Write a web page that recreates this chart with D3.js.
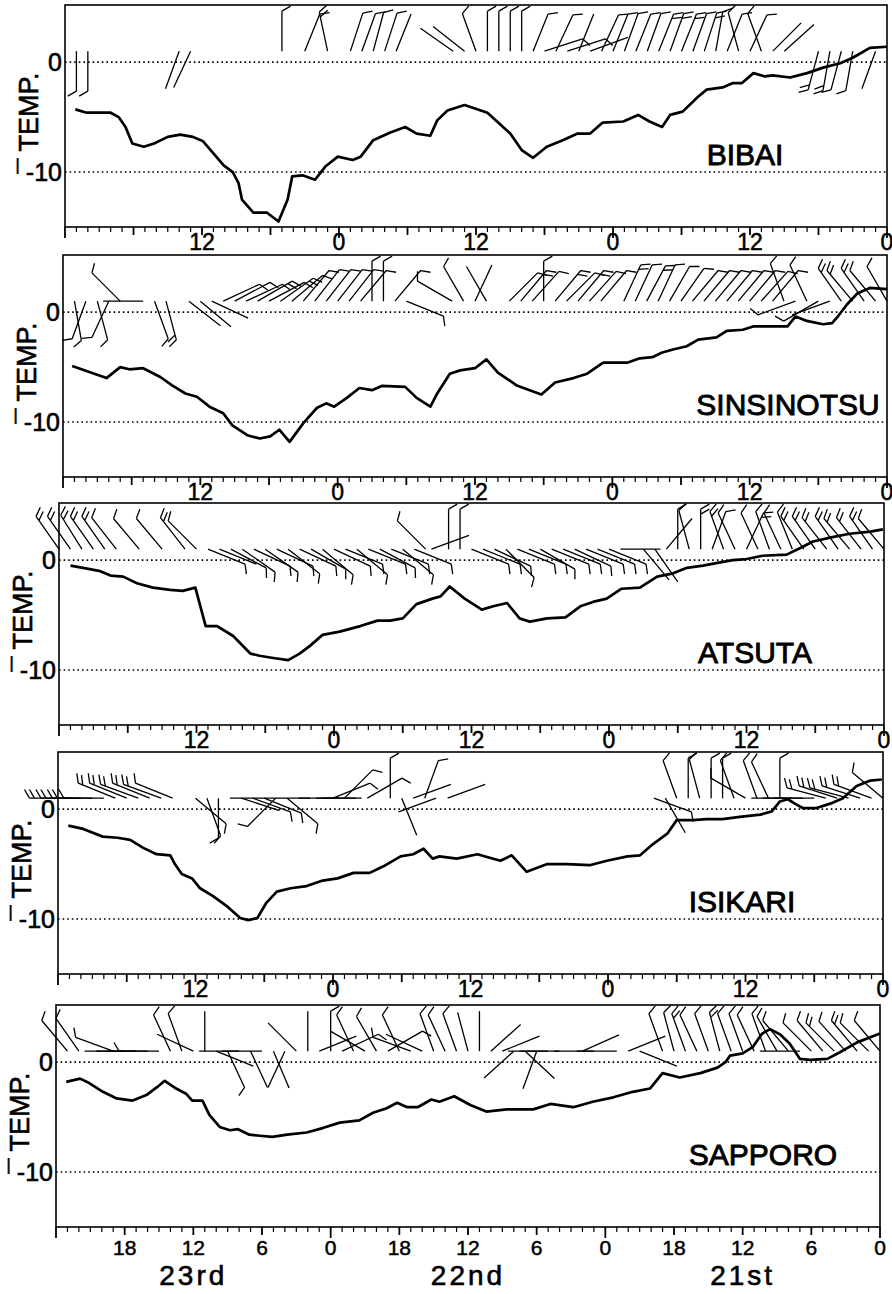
<!DOCTYPE html>
<html>
<head>
<meta charset="utf-8">
<script src="https://cdn.jsdelivr.net/npm/d3@7"></script>
<style>
  body { margin: 0; background: #fff; }
  text { font-family: "Liberation Sans", Arial, Helvetica, sans-serif; fill: #000; }
</style>
</head>
<body>
<script>
// time = hours counted back from 00h of the 21st (right edge) to 00h of the 24th (left edge)
var stations = ["BIBAI", "SINSINOTSU", "ATSUTA", "ISIKARI", "SAPPORO"];

// temperature, [hour, degC]
var bibaiTemp = [[71.1,-4.3],[70.1,-4.6],[68.0,-4.6],[67.3,-5.0],[66.7,-5.9],[66.1,-7.4],[65.1,-7.7],[64.2,-7.4],
  [63.0,-6.8],[61.9,-6.6],[60.8,-6.8],[59.9,-7.2],[59.0,-8.3],[58.1,-9.4],[57.3,-10.0],[56.8,-11.0],[56.5,-12.5],
  [55.5,-13.7],[54.3,-13.7],[53.3,-14.5],[52.5,-12.5],[52.1,-10.4],[51.2,-10.3],[50.1,-10.7],[49.2,-9.5],[48.1,-8.6],
  [46.8,-8.9],[46.1,-8.6],[45.0,-7.1],[43.5,-6.4],[42.2,-5.9],[41.2,-6.5],[40.0,-6.7],[39.4,-5.3],[38.5,-4.4],
  [37.0,-3.9],[35.0,-4.6],[33.0,-6.5],[32.0,-8.0],[31.0,-8.7],[29.8,-7.7],[28.4,-7.1],[27.1,-6.5],[26.0,-6.5],
  [24.9,-5.5],[23.1,-5.4],[21.8,-4.8],[20.8,-5.4],[19.7,-5.9],[19.0,-4.8],[17.9,-4.5],[16.6,-3.2],[15.8,-2.5],
  [14.4,-2.3],[13.5,-1.9],[12.7,-1.9],[11.7,-1.0],[10.7,-1.3],[10.0,-1.2],[8.5,-1.4],[7.0,-1.0],[5.6,-0.5],
  [4.1,-0.1],[3.0,0.4],[1.5,1.3],[0,1.4]];
var sinsinotsuTemp = [[71.2,-4.9],[68.2,-6.0],[67.0,-5.0],[66.2,-5.2],[65.0,-5.1],[63.5,-5.9],[62.4,-6.7],[61.3,-7.4],
  [60.3,-7.7],[59.2,-8.6],[58.0,-9.2],[57.2,-10.3],[55.9,-11.2],[54.8,-11.5],[53.9,-11.3],[53.1,-10.7],[52.2,-11.8],
  [51.0,-10.1],[49.8,-8.7],[49.0,-8.3],[48.3,-8.6],[47.2,-7.8],[46.1,-6.9],[45.0,-7.1],[44.1,-6.7],[42.1,-6.8],
  [41.1,-7.8],[39.9,-8.6],[39.3,-7.4],[38.2,-5.6],[37.3,-5.3],[36.0,-5.1],[35.0,-4.3],[34.0,-5.5],[32.3,-6.7],
  [30.2,-7.5],[29.0,-6.4],[27.4,-6.0],[26.2,-5.6],[24.8,-4.6],[22.7,-4.6],[21.6,-4.2],[20.5,-4.1],[19.7,-3.7],
  [18.7,-3.4],[17.5,-3.1],[16.5,-2.5],[14.9,-2.3],[14.0,-1.7],[12.6,-1.6],[11.7,-1.3],[10.0,-1.3],[8.7,-1.3],
  [8.0,-0.4],[7.0,-0.8],[5.6,-1.1],[4.8,-1.0],[4.3,-0.4],[3.5,0.7],[2.6,1.7],[1.5,2.2],[0,2.1]];
var atsutaTemp = [[71.0,-0.5],[69.9,-0.7],[68.4,-1.0],[67.5,-1.4],[66.4,-1.5],[65.2,-2.1],[63.8,-2.5],[62.3,-2.7],
  [61.2,-2.8],[60.1,-2.5],[59.2,-6.0],[58.2,-6.0],[56.8,-6.9],[55.3,-8.5],[54.5,-8.7],[53.3,-8.9],[52.0,-9.1],
  [51.0,-8.5],[50.1,-7.8],[49.0,-6.8],[47.5,-6.5],[45.7,-6.0],[44.2,-5.5],[43.1,-5.5],[42.0,-5.3],[40.8,-4.0],
  [39.4,-3.5],[38.7,-3.3],[37.9,-2.4],[36.6,-3.5],[35.1,-4.5],[34.1,-4.2],[32.9,-3.9],[31.8,-5.3],[30.9,-5.6],
  [29.4,-5.3],[27.8,-5.2],[26.5,-4.2],[25.4,-3.8],[24.2,-3.5],[22.9,-2.6],[21.3,-2.5],[19.8,-1.5],[18.4,-1.2],
  [17.2,-0.7],[15.8,-0.5],[14.3,-0.2],[13.2,0.0],[12.0,0.1],[10.6,0.4],[8.5,0.5],[7.3,1.1],[6.2,1.7],[4.5,2.1],
  [3.0,2.4],[1.2,2.6],[0.1,2.8]];
var isikariTemp = [[71.1,-1.5],[69.8,-1.8],[68.1,-2.5],[66.8,-2.6],[65.7,-2.8],[64.6,-3.5],[63.4,-4.1],[62.2,-4.2],
  [61.8,-5.0],[61.2,-5.9],[60.3,-6.3],[59.6,-7.2],[58.5,-7.9],[57.3,-8.8],[56.1,-9.9],[55.4,-10.1],[54.6,-9.9],
  [53.8,-8.5],[52.9,-7.5],[51.7,-7.2],[50.3,-7.0],[48.9,-6.5],[47.6,-6.3],[46.2,-5.8],[44.8,-5.8],[43.6,-5.2],
  [42.1,-4.3],[41.0,-4.1],[40.1,-3.6],[39.3,-4.5],[38.7,-4.3],[37.2,-4.5],[35.4,-4.1],[33.4,-4.7],[32.4,-4.2],
  [31.1,-5.7],[29.3,-5.0],[27.6,-5.0],[25.6,-5.1],[24.1,-4.7],[22.3,-4.3],[21.2,-4.2],[20.1,-3.2],[18.8,-2.2],
  [18.0,-1.0],[16.6,-1.0],[15.4,-0.9],[14.0,-0.9],[12.5,-0.7],[10.7,-0.5],[9.7,-0.2],[9.0,0.7],[8.3,0.9],
  [7.7,0.5],[7.0,0.1],[5.8,0.1],[4.6,0.5],[3.5,1.0],[2.3,2.1],[1.1,2.6],[0.1,2.7]];
var sapporoTemp = [[71.1,-1.8],[69.9,-1.5],[69.1,-1.9],[67.9,-2.7],[66.7,-3.3],[65.3,-3.5],[64.1,-3.0],[63.2,-2.3],
  [62.5,-1.7],[61.5,-2.4],[60.6,-2.9],[60.1,-3.5],[59.2,-3.5],[58.6,-4.8],[57.7,-5.9],[56.8,-6.2],[56.1,-6.1],
  [55.1,-6.6],[54.2,-6.7],[53.1,-6.8],[51.8,-6.6],[50.1,-6.4],[48.7,-6.0],[47.2,-5.5],[45.5,-5.3],[44.3,-4.6],
  [43.1,-4.2],[42.2,-3.7],[41.3,-4.1],[40.4,-4.1],[39.2,-3.4],[38.5,-3.6],[37.2,-3.1],[35.8,-3.9],[34.4,-4.5],
  [32.6,-4.3],[30.3,-4.3],[28.8,-3.8],[26.8,-4.1],[25.1,-3.6],[23.3,-3.2],[21.6,-2.7],[20.1,-2.4],[19.0,-1.0],
  [17.5,-1.4],[15.7,-1.0],[14.2,-0.5],[13.5,0.0],[13.1,0.6],[12.0,0.8],[11.1,1.4],[10.3,2.6],[9.6,3.0],
  [8.7,2.5],[7.9,1.7],[7.0,0.3],[6.1,0.2],[4.6,0.3],[3.5,0.9],[2.0,1.8],[0,2.6]];

// wind, [hour, direction wind blows from (deg), number of feathers]
var bibaiWind = [[71,180,1],[70,180,1],[62,200,0],[61,205,0],[53,0,1],[51,22,1],[49,348,2],
  [47,18,1],[46,20,1],[45,15,1],[44,18,1],[43,22,0],[38,305,0],[37,308,0],[36,340,1],
  [35,0,1],[34,0,1],[33,0,1],[32,0,1],[31,22,1],[30,72,1],[29,25,1],[28,72,1],[27,22,0],[26,70,0],[25,25,1],
  [24,22,1],[23,20,1],[22,22,1],[21,20,1],[20,22,2],[19,20,2],[18,22,2],[17,20,1],[16,18,2],[15,10,1],[14,22,1],[13,345,1],
  [12,25,1],[11,340,1],[10,45,0],[9,48,0],[6,195,2],[5,190,2],[4,195,1],[3,190,1],[1,200,0]];
var sinsinotsuWind = [[71,170,1],[70,200,1],[69,165,1],[68,205,1],[67,315,1],[65,270,0],[64,160,1],[63,165,2],
  [61,128,0],[60,130,0],[59,115,0],[58,65,1],[57,62,1],[56,65,1],[55,60,2],[54,62,1],[53,55,2],[52,50,1],[51,40,1],
  [50,38,1],[49,38,1],[48,38,1],[47,38,1],[46,40,1],[45,0,1],[44,0,1],[43,40,1],[42,112,1],[38,300,1],
  [37,330,1],[36,25,0],[35,330,0],[33,45,1],[32,40,2],[31,42,1],[30,0,1],[29,40,2],[28,45,1],[27,40,2],[26,42,1],[25,40,1],
  [23,25,2],[22,25,1],[21,28,2],[20,25,1],[19,30,1],[18,35,1],[17,40,1],[16,40,1],[15,40,1],[14,40,1],[13,40,1],
  [12,40,1],[11,42,1],[10,40,1],[9,340,1],[8,250,1],[7,335,1],[6,240,1],[5,250,0],[4,325,2],[3,320,2],[2,325,2],
  [1,320,1],[0,330,1]];
var atsutaWind = [[72,325,2],[71,325,2],[70,328,2],[69,325,2],[68,325,2],[67,322,1],[65,320,1],[63,320,1],[61,322,2],
  [60,315,1],[59,112,1],[58,112,0],[57,118,1],[56,125,1],[55,115,1],[54,125,1],[53,115,1],[52,128,1],[51,115,1],
  [50,120,1],[49,130,1],[48,115,1],[47,112,1],[46,130,1],[45,112,1],[44,118,1],[43,112,1],[42,130,1],[41,112,1],
  [40,315,1],[39.5,70,0],[38,0,1],[37,0,1],[36,112,1],[35,112,1],[34,115,1],[33,135,1],[32,112,1],[31,112,1],
  [30,120,1],[29,112,1],[28,112,1],[27,115,1],[26,112,1],[25,112,1],[24,112,1],[23,90,0],[21,140,0],[20,145,0],
  [19,40,0],[18,0,1],[17,345,1],[16,0,2],[15,20,1],[14,340,2],[13,335,1],[12,25,2],[11,335,1],[10,340,1],[9,335,1],
  [8,338,1],[7,325,2],[6,325,2],[5,322,2],[4,325,2],[3,320,2],[2,322,2],[1,325,2],[0,320,1]];
var isikariWind = [[71,270,2],[70,270,2],[69,270,2],[68,270,1],[67,292,2],[66,292,2],[65,290,2],[64,292,2],
  [63,290,2],[62,292,1],[60,130,1],[59,160,1],[58,180,1],[57,90,0],[56,108,0],[55,110,1],[54,112,1],[53,225,1],
  [52,130,1],[51,90,0],[50,270,0],[49,90,0],[48,68,1],[47,45,1],[46,270,0],[45,60,1],[43,0,1],[42,158,0],[41,70,0],
  [40,20,1],[39,250,0],[38,70,0],[20,110,1],[19,150,0],[18,340,1],[17,0,1],[16,345,1],[15,0,1],[14,0,1],[13,340,1],
  [12,300,1],[11,340,1],[10,335,1],[9,0,1],[8,270,0],[7,270,0],[6,270,0],[5,285,2],[4,288,2],[3,285,2],[2,288,2],
  [1,290,2],[0,310,1]];
var sapporoWind = [[71,320,1],[70,325,1],[67,290,1],[66,270,0],[65,270,0],[64,270,0],[63,270,1],[62,335,1],[61,340,1],
  [60,295,0],[59,0,0],[58,112,0],[57,155,1],[56,270,0],[55,155,0],[54,270,0],[53,157,0],[52,205,0],[51,315,0],
  [50,0,0],[49,68,0],[48,0,1],[47,65,1],[46,335,1],[45,300,0],[44,330,1],[43,60,1],[42,335,1],[41,290,1],[40,295,0],
  [39,340,1],[38,335,1],[37,340,1],[36,345,0],[35,0,0],[34,48,0],[33,68,0],[32,228,0],[31,133,0],[30,200,0],
  [29,270,0],[28,270,0],[26,66,0],[25,270,0],[23,270,0],[22,68,0],[21,112,0],[19,340,1],[18,345,1],[17,340,2],
  [16,335,1],[15,340,1],[14,345,2],[13,340,1],[12,340,1],[11,335,1],[10,340,1],[9,330,1],[8,320,1],[7,270,0],
  [6,315,1],[5,320,1],[4,315,2],[3,318,1],[2,320,2],[1,315,1],[0,320,1]];

var upperTickHours = [60, 48, 36, 24, 12, 0];
var lowerTickHours = [66, 60, 54, 48, 42, 36, 30, 24, 18, 12, 6, 0];
var dayNames = ["23rd", "22nd", "21st"];
var dayNoon = [60, 36, 12];
var tempLines = [0, -10];
var tempLabels = ["0", "-10"];

var temps = [bibaiTemp, sinsinotsuTemp, atsutaTemp, isikariTemp, sapporoTemp];
var winds = [bibaiWind, sinsinotsuWind, atsutaWind, isikariWind, sapporoWind];

// the scanned page is a bit skewed, so every frame gets its own edges
var frames = [
  {top: 5,    left: 65, right: 887, nameX: 745},
  {top: 255,  left: 63, right: 887, nameX: 788},
  {top: 503,  left: 59, right: 884, nameX: 755},
  {top: 752,  left: 58, right: 883, nameX: 742},
  {top: 1005, left: 56, right: 880, nameX: 763}
];
var frameH = 222;
var shaft = 40, feather = 10, featherGap = 5;

var svg = d3.select("body").append("svg")
    .attr("width", 892).attr("height", 1294);

function barbPath(d, x, yBase) {
  var a = d[1] * Math.PI / 180;
  var ux = Math.sin(a), uy = -Math.cos(a);
  var bx = x(d[0]), by = yBase;
  var p = "M" + bx + "," + by + "L" + (bx + ux * shaft) + "," + (by + uy * shaft);
  // feathers sit on the clockwise side, leaning toward the tip
  var r = 60 * Math.PI / 180;
  var fx = ux * Math.cos(r) - uy * Math.sin(r), fy = ux * Math.sin(r) + uy * Math.cos(r);
  for (var k = 0; k < d[2]; k++) {
    var s = shaft - k * featherGap;
    var sx = bx + ux * s, sy = by + uy * s;
    p += "M" + sx + "," + sy + "L" + (sx + fx * feather) + "," + (sy + fy * feather);
  }
  return p;
}

frames.forEach(function(f, i) {
  var last = (i === frames.length - 1);
  var x = d3.scaleLinear().domain([72, 0]).range([f.left, f.right]);
  var y = d3.scaleLinear().domain([-15, 5.2]).range([f.top + frameH, f.top]);
  var bottom = f.top + frameH;
  var g = svg.append("g");

  g.append("rect")
      .attr("x", f.left).attr("y", f.top)
      .attr("width", f.right - f.left).attr("height", frameH)
      .attr("fill", "none").attr("stroke", "#000").attr("stroke-width", 1.6);

  g.selectAll(".ref").data(tempLines).enter().append("line")
      .attr("class", "ref")
      .attr("x1", f.left).attr("x2", f.right)
      .attr("y1", function(d) { return y(d); }).attr("y2", function(d) { return y(d); })
      .attr("stroke", "#000").attr("stroke-width", 1.6).attr("stroke-dasharray", "1.6,3");

  g.selectAll(".ylab").data(tempLines).enter().append("text")
      .attr("class", "ylab")
      .attr("x", f.left - 3).attr("y", function(d) { return y(d); })
      .attr("dy", "0.36em").attr("text-anchor", "end")
      .attr("font-size", 25).attr("stroke", "#000").attr("stroke-width", 0.6)
      .text(function(d, j) { return tempLabels[j]; });

  g.append("text")
      .attr("transform", "translate(" + (f.left - 27) + "," + (f.top + 118) + ") rotate(-90)")
      .attr("text-anchor", "middle").attr("font-size", 27)
      .attr("stroke", "#000").attr("stroke-width", 0.6)
      .text("\u00AF TEMP.");

  // hourly ruler under each frame
  g.selectAll(".tick").data(d3.range(0, 73)).enter().append("line")
      .attr("class", "tick")
      .attr("x1", function(d) { return x(d); }).attr("x2", function(d) { return x(d); })
      .attr("y1", bottom)
      .attr("y2", function(d) { return bottom + (d % 24 === 0 ? 11 : d % 6 === 0 ? 8 : 5); })
      .attr("stroke", "#000").attr("stroke-width", function(d) { return d % 6 === 0 ? 1.8 : 1.2; });

  g.selectAll(".xlab").data(last ? lowerTickHours : upperTickHours).enter().append("text")
      .attr("class", "xlab")
      .attr("x", function(d) { return x(d); })
      .attr("y", bottom + (last ? 28 : 23))
      .attr("text-anchor", "middle").attr("font-size", last ? 21 : 23)
      .attr("stroke", "#000").attr("stroke-width", 0.5)
      .text(function(d) { return d % 24; });

  if (last) {
    g.selectAll(".day").data(dayNoon).enter().append("text")
        .attr("class", "day")
        .attr("x", function(d) { return x(d); })
        .attr("y", bottom + 58)
        .attr("text-anchor", "middle").attr("font-size", 28).attr("letter-spacing", 3)
        .attr("stroke", "#000").attr("stroke-width", 0.6)
        .text(function(d, j) { return dayNames[j]; });
  }

  var yBase = y(1);
  g.selectAll(".barb").data(winds[i]).enter().append("path")
      .attr("class", "barb")
      .attr("d", function(d) { return barbPath(d, x, yBase); })
      .attr("fill", "none").attr("stroke", "#000").attr("stroke-width", 1.3);

  var line = d3.line()
      .x(function(d) { return x(d[0]); })
      .y(function(d) { return y(d[1]); });
  g.append("path").datum(temps[i])
      .attr("d", line)
      .attr("fill", "none").attr("stroke", "#000")
      .attr("stroke-width", 2.7).attr("stroke-linejoin", "round");

  g.append("text")
      .attr("x", f.nameX).attr("y", y(-9.4))
      .attr("text-anchor", "middle").attr("font-size", 30)
      .attr("stroke", "#000").attr("stroke-width", 0.9)
      .text(stations[i]);
});
</script>
</body>
</html>
